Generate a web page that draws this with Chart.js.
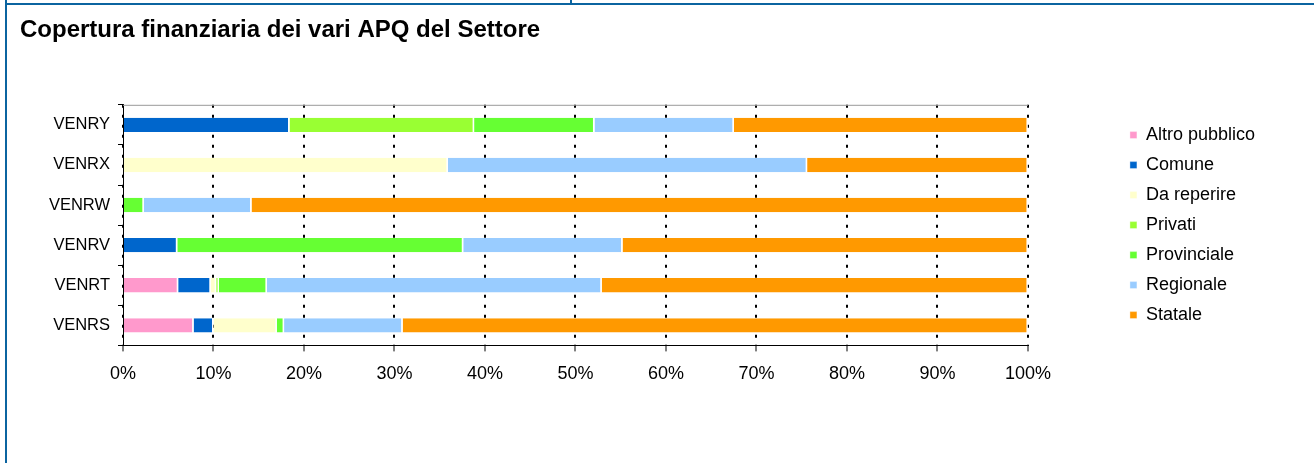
<!DOCTYPE html>
<html>
<head>
<meta charset="utf-8">
<script src="https://cdn.jsdelivr.net/npm/chart.js@4"></script>
<style>
    html, body { margin: 0; padding: 0; background: #fff; }
    #wrap { position: absolute; left: 0; top: 0; width: 1314px; height: 463px; }
    .frame { position: absolute; background: #0b64a0; }
</style>
</head>
<body>
<div id="wrap"><canvas id="apqChart"></canvas></div>
<div class="frame" style="left:5px; top:0; width:2px; height:463px;"></div>
<div class="frame" style="left:5px; top:3px; width:1309px; height:2px;"></div>
<div class="frame" style="left:570px; top:0; width:2px; height:4px;"></div>
<script>
// Data (percent of each APQ)
const categories = ['VENRY', 'VENRX', 'VENRW', 'VENRV', 'VENRT', 'VENRS'];
const altroPubblico = [0, 0, 0, 0, 6.1, 7.8];
const comune = [18.4, 0, 0, 6.0, 3.6, 2.2];
const daReperire = [0, 35.9, 0, 0, 0.6, 7.0];
const privati = [20.4, 0, 0, 0, 0.3, 0];
const provinciale = [13.3, 0, 2.3, 31.6, 5.3, 0.8];
const regionale = [15.4, 39.7, 11.9, 17.6, 37.0, 13.1];
const statale = [32.5, 24.4, 85.8, 44.8, 47.1, 69.1];
const xTicks = [0, 10, 20, 30, 40, 50, 60, 70, 80, 90, 100];

Chart.defaults.font.family = 'Arial, "Liberation Sans", sans-serif';
Chart.defaults.color = '#000';

const makeSet = (label, data, color) => ({
    label,
    data,
    backgroundColor: color,
    borderColor: '#fff',
    borderWidth: { right: 1.5 },
    borderSkipped: 'start',
    xAxisID: 'x',
    yAxisID: 'y',
    categoryPercentage: 1,
    barPercentage: 0.36
});

// grey line along the top of the plot area
const topBorder = {
    id: 'topBorder',
    beforeDatasetsDraw(chart) {
        const { ctx, chartArea } = chart;
        ctx.save();
        ctx.strokeStyle = '#999';
        ctx.lineWidth = 1;
        ctx.beginPath();
        ctx.moveTo(chartArea.left, chartArea.top + 0.5);
        ctx.lineTo(chartArea.right, chartArea.top + 0.5);
        ctx.stroke();
        ctx.restore();
    }
};

new Chart(document.getElementById('apqChart').getContext('2d'), {
    type: 'bar',
    plugins: [topBorder],
    data: {
        labels: categories,
        datasets: [
            makeSet('Altro pubblico', altroPubblico, '#ff99cc'),
            makeSet('Comune', comune, '#0066cc'),
            makeSet('Da reperire', daReperire, '#ffffcc'),
            makeSet('Privati', privati, '#99ff33'),
            makeSet('Provinciale', provinciale, '#66ff33'),
            makeSet('Regionale', regionale, '#99ccff'),
            makeSet('Statale', statale, '#ff9900')
        ]
    },
    options: {
        indexAxis: 'y',
        responsive: true,
        maintainAspectRatio: false,
        animation: false,
        layout: {
            padding: { left: 20, top: 5, right: 49, bottom: 66 }
        },
        plugins: {
            title: {
                display: true,
                text: 'Copertura finanziaria dei vari APQ del Settore',
                align: 'start',
                color: '#000',
                font: { size: 24, weight: 'bold' },
                padding: { top: 11, bottom: 60 }
            },
            legend: {
                position: 'right',
                fullSize: false,
                labels: {
                    color: '#000',
                    font: { size: 18 },
                    boxWidth: 7,
                    boxHeight: 7,
                    padding: 12
                }
            },
            tooltip: { enabled: false }
        },
        scales: {
            x: {
                stacked: true,
                min: 0,
                max: 100,
                afterBuildTicks: (scale) => {
                    scale.ticks = xTicks.map(v => ({ value: v }));
                },
                ticks: {
                    padding: 12,
                    font: { size: 18 },
                    color: '#000',
                    callback: (v) => v + '%'
                },
                grid: {
                    color: '#000',
                    lineWidth: 2,
                    tickLength: 6,
                    tickColor: '#000',
                    tickWidth: 1
                },
                // in v4 the dash of the grid lines lives under border
                border: { color: '#000', width: 1, dash: [3, 7] }
            },
            y: {
                stacked: true,
                afterFit: (scale) => { scale.width = 103; },
                ticks: {
                    padding: 8,
                    font: { size: 16.5 },
                    color: '#000'
                },
                grid: {
                    drawOnChartArea: false,
                    offset: true,
                    tickLength: 5,
                    tickColor: '#000',
                    tickWidth: 1
                },
                border: { color: '#000', width: 1 }
            },
            // empty axis that keeps the gap between plot and legend
            pad: {
                type: 'linear',
                position: 'right',
                display: true,
                grid: { display: false },
                border: { display: false },
                ticks: { display: false },
                afterFit: (scale) => { scale.width = 90; }
            }
        }
    }
});
</script>
</body>
</html>
